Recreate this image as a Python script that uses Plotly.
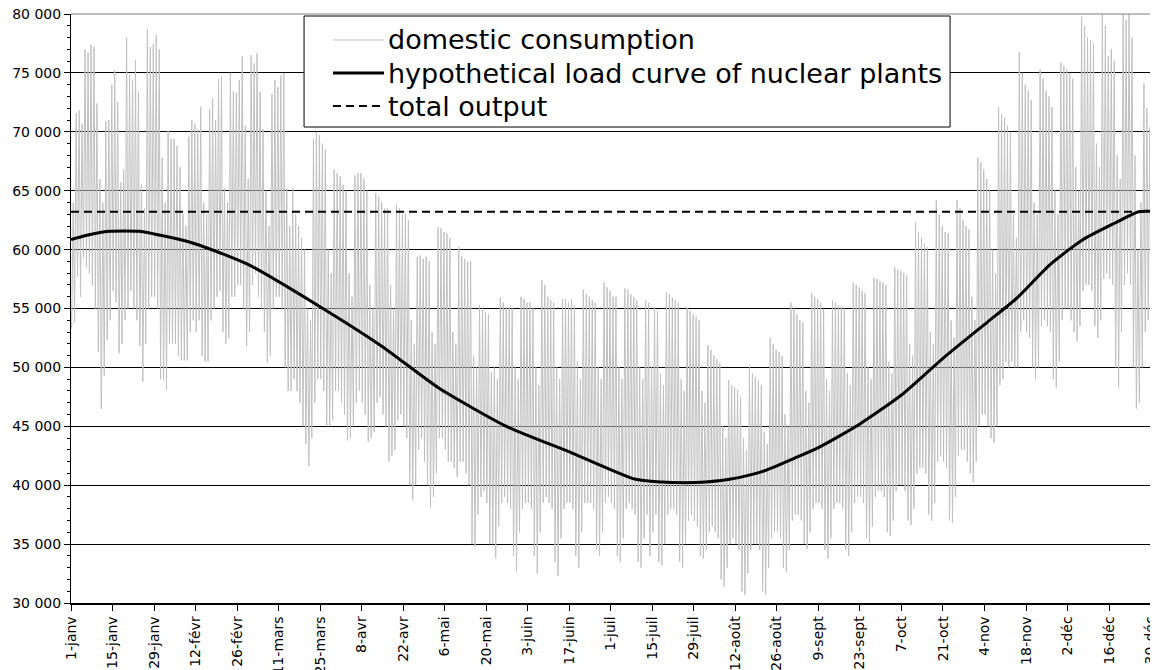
import plotly.graph_objects as go

# x axis: day of year 2004, one label every 14 days
x_labels = ["1-janv", "15-janv", "29-janv", "12-févr", "26-févr", "11-mars", "25-mars",
            "8-avr", "22-avr", "6-mai", "20-mai", "3-juin", "17-juin", "1-juil",
            "15-juil", "29-juil", "12-août", "26-août", "9-sept", "23-sept", "7-oct",
            "21-oct", "4-nov", "18-nov", "2-déc", "16-déc", "30-déc"]
tick_days = list(range(0, 365, 14))

# domestic consumption, daily peak (thousand MW), one row = 7 days starting 1 Jan
daily_max = [
    64.0, 71.6, 71.8, 70.7, 77.0, 76.7, 77.4,
    77.2, 72.4, 66.0, 64.0, 70.9, 71.0, 74.0,
    75.2, 72.5, 65.7, 66.8, 78.0, 74.8, 74.4,
    76.1, 73.4, 65.5, 63.5, 78.7, 77.2, 77.4,
    78.2, 77.0, 67.8, 64.0, 70.1, 69.4, 69.4,
    68.8, 67.0, 63.0, 62.0, 69.6, 71.0, 70.7,
    70.2, 72.1, 64.0, 63.0, 71.9, 72.8, 71.0,
    74.5, 74.7, 65.2, 64.0, 75.0, 73.4, 73.3,
    74.4, 76.4, 70.5, 66.0, 76.5, 75.8, 76.7,
    73.4, 70.2, 65.0, 62.0, 73.2, 74.4, 73.8,
    74.8, 75.0, 65.2, 62.0, 65.2, 63.0, 62.0,
    61.0, 60.0, 55.0, 54.0, 69.4, 70.0, 69.7,
    69.0, 68.5, 60.0, 58.0, 66.8, 66.5, 66.2,
    65.5, 65.0, 58.0, 56.0, 66.3, 66.5, 66.5,
    66.0, 65.0, 57.0, 55.0, 64.8, 64.5, 64.0,
    63.5, 63.5, 57.0, 55.0, 63.8, 63.5, 63.0,
    63.0, 62.5, 54.0, 52.0, 59.4, 59.5, 59.2,
    59.4, 59.0, 53.0, 52.0, 61.9, 61.8, 61.5,
    61.4, 61.0, 53.0, 52.0, 60.2, 59.4, 59.2,
    59.0, 59.0, 51.0, 50.0, 55.3, 55.0, 54.7,
    54.5, 49.6, 50.0, 49.0, 55.9, 55.5, 55.1,
    55.1, 55.0, 50.0, 49.0, 56.0, 55.8, 55.5,
    55.5, 55.0, 50.0, 48.5, 57.4, 57.0, 56.0,
    55.7, 55.5, 50.0, 49.0, 55.8, 55.8, 55.5,
    55.8, 55.3, 50.5, 49.0, 56.6, 56.2, 56.0,
    55.7, 55.5, 50.0, 49.0, 57.2, 56.8, 56.5,
    56.0, 56.0, 50.0, 49.0, 56.7, 56.6, 56.2,
    56.0, 55.7, 50.0, 49.0, 55.7, 55.5, 50.0,
    55.1, 54.8, 49.5, 48.5, 56.4, 56.2, 55.9,
    55.7, 55.5, 49.0, 48.0, 55.1, 54.8, 54.5,
    54.3, 54.0, 48.0, 47.0, 51.9, 51.5, 51.0,
    50.7, 50.4, 45.0, 44.0, 48.9, 48.5, 48.3,
    48.1, 47.5, 44.0, 43.0, 50.0, 49.5, 49.2,
    48.9, 48.5, 44.5, 43.5, 52.5, 52.0, 51.5,
    51.3, 51.0, 46.0, 45.0, 55.5, 55.0, 54.5,
    54.0, 53.8, 48.0, 47.0, 56.3, 56.0, 55.8,
    55.5, 54.9, 49.0, 48.0, 55.7, 55.5, 55.3,
    55.1, 55.0, 49.5, 48.5, 57.2, 57.0, 56.8,
    56.5, 56.3, 50.0, 49.0, 57.6, 57.5, 57.3,
    57.2, 57.0, 50.5, 49.5, 58.5, 58.3, 58.2,
    58.0, 57.8, 52.0, 51.0, 62.3, 61.5, 61.0,
    60.5, 60.2, 53.0, 52.0, 64.2, 63.0, 62.0,
    61.5, 61.4, 54.0, 52.5, 64.2, 63.5, 62.5,
    62.0, 61.7, 56.0, 54.0, 67.8, 67.4, 66.8,
    66.0, 65.0, 60.0, 58.0, 72.1, 71.5, 71.2,
    70.5, 70.0, 63.0, 61.0, 76.8, 75.0, 74.0,
    73.5, 72.7, 64.0, 63.0, 75.3, 74.5, 73.5,
    73.0, 72.1, 65.0, 63.0, 75.9, 75.6, 75.3,
    75.0, 74.5, 67.0, 65.0, 79.8, 79.0, 78.0,
    77.8, 77.5, 69.0, 67.0, 80.0, 79.0, 76.4,
    77.0, 76.0, 68.0, 66.0, 80.0, 79.5, 80.0,
    78.0, 68.0, 60.0, 64.0, 74.1, 72.0, 70.4,
    70.0, 66.0,
]

# domestic consumption, night trough (thousand MW)
daily_min = [
    53.3, 53.8, 57.7, 56.0, 59.3, 58.5, 58.0,
    56.9, 55.0, 51.3, 46.5, 49.3, 52.3, 54.0,
    56.5, 55.5, 51.2, 52.0, 54.0, 55.0, 56.5,
    55.0, 54.0, 51.8, 48.8, 52.0, 55.0, 56.0,
    56.0, 55.0, 49.0, 48.9, 48.1, 52.0, 52.0,
    52.0, 51.0, 50.6, 50.6, 50.6, 53.0, 54.0,
    53.0, 54.0, 51.0, 50.5, 50.5, 54.0, 55.0,
    56.0, 56.5, 53.0, 52.0, 52.5, 56.0, 56.0,
    57.0, 57.0, 55.0, 51.8, 53.0, 57.0, 58.0,
    56.0, 55.0, 53.0, 50.4, 51.0, 55.0, 56.0,
    56.0, 55.0, 50.0, 48.0, 48.0, 49.0, 48.0,
    47.0, 45.0, 43.5, 41.6, 44.0, 47.0, 49.0,
    49.0, 48.0, 45.0, 45.0, 45.5, 48.0, 48.0,
    47.0, 46.0, 43.8, 44.0, 45.0, 47.0, 48.0,
    47.0, 46.0, 43.7, 44.0, 44.5, 47.0, 47.5,
    46.0, 45.0, 42.0, 42.5, 43.0, 45.5, 46.0,
    45.0, 44.0, 40.0, 38.7, 40.0, 43.0, 44.0,
    42.0, 40.0, 38.1, 39.0, 41.0, 44.0, 44.0,
    43.0, 42.0, 42.0, 41.5, 40.7, 42.0, 42.0,
    41.0, 40.0, 35.0, 34.8, 37.5, 39.0, 39.5,
    38.5, 35.0, 35.0, 33.8, 36.5, 38.5, 39.0,
    38.5, 38.0, 34.0, 32.7, 36.0, 38.0, 38.5,
    38.5, 38.0, 34.0, 32.5, 36.0, 38.5, 39.0,
    38.5, 38.0, 33.5, 32.3, 35.5, 38.0, 38.5,
    38.5, 38.0, 34.0, 33.0, 36.0, 38.5, 38.5,
    38.5, 38.0, 34.5, 34.0, 36.0, 38.5, 39.0,
    38.5, 38.0, 34.0, 33.5, 35.5, 38.0, 38.5,
    38.0, 37.5, 33.5, 33.0, 35.5, 37.5, 34.0,
    36.0, 37.5, 33.5, 33.2, 35.0, 37.5, 38.0,
    38.0, 37.5, 33.5, 33.0, 35.0, 37.0, 37.5,
    37.0, 36.5, 34.0, 33.8, 34.5, 36.0, 36.5,
    36.0, 35.5, 32.0, 31.4, 33.0, 35.0, 35.5,
    35.0, 34.5, 31.0, 30.7, 32.5, 34.5, 35.0,
    35.0, 34.5, 31.0, 30.7, 33.0, 35.5, 36.0,
    36.0, 35.5, 33.0, 32.6, 34.5, 37.0, 37.5,
    37.5, 37.0, 35.0, 34.6, 36.0, 38.0, 38.5,
    38.5, 38.0, 34.5, 33.8, 35.5, 38.0, 38.5,
    38.5, 38.0, 34.5, 34.0, 36.0, 38.5, 39.0,
    39.0, 38.5, 35.5, 35.1, 36.5, 39.0, 39.5,
    39.5, 39.0, 36.0, 35.7, 37.0, 39.5, 40.0,
    40.0, 39.5, 37.0, 36.6, 38.0, 41.0, 41.5,
    41.5, 41.0, 37.5, 37.0, 38.5, 42.0, 42.5,
    42.0, 41.5, 37.0, 36.8, 39.0, 42.5, 43.0,
    43.0, 42.0, 41.0, 40.2, 42.0, 45.0, 46.0,
    46.0, 45.0, 44.0, 43.6, 45.0, 48.5, 49.0,
    50.5, 50.0, 50.5, 50.0, 50.0, 53.0, 54.0,
    53.0, 52.5, 50.0, 49.0, 50.0, 53.5, 54.0,
    53.5, 53.0, 49.0, 48.3, 50.5, 54.0, 55.0,
    55.0, 54.0, 53.0, 52.2, 53.5, 56.5, 57.0,
    57.0, 56.5, 53.5, 52.5, 54.0, 57.5, 58.0,
    57.5, 57.0, 50.0, 48.3, 53.0, 57.0, 58.0,
    57.0, 50.0, 46.5, 47.0, 50.0, 53.0, 54.0,
    53.0, 52.7,
]
trough_hour = 5
peak_hour = 18

# hypothetical load curve of nuclear plants (thousand MW)
load_days = [0, 5, 13, 18, 23, 28, 36, 41, 52, 60, 83, 105, 124, 147, 169, 190, 199,
             207, 214, 222, 233, 244, 252, 266, 280, 294, 309, 319, 330, 341, 352, 360, 366]
load_vals = [60.85, 61.20, 61.55, 61.58, 61.55, 61.33, 60.90, 60.56, 59.55, 58.70, 55.30,
             51.76, 48.25, 44.97, 42.73, 40.53, 40.27, 40.20, 40.27, 40.50, 41.15, 42.30,
             43.19, 45.20, 47.66, 50.77, 53.85, 55.90, 58.70, 60.82, 62.26, 63.22, 63.22]

total_output = 63.22

# daily trough -> peak zig-zag for the consumption trace
cons_x, cons_y = [], []
for day, (lo, hi) in enumerate(zip(daily_min, daily_max)):
    cons_x += [day + trough_hour / 24, day + peak_hour / 24]
    cons_y += [lo * 1000, hi * 1000]

fig = go.Figure()
fig.add_trace(go.Scatter(x=cons_x, y=cons_y, mode='lines', name='domestic consumption',
                         line=dict(color='#c0c0c0', width=1), showlegend=False))
fig.add_trace(go.Scatter(x=load_days, y=[v * 1000 for v in load_vals], mode='lines',
                         name='hypothetical load curve of nuclear plants',
                         line=dict(color='black', width=3, shape='spline', smoothing=0.6),
                         showlegend=False))
fig.add_trace(go.Scatter(x=[0, 366], y=[total_output * 1000] * 2, mode='lines',
                         name='total output',
                         line=dict(color='black', width=2, dash='8px,5px'), showlegend=False))

# legend drawn as a framed box (paper coordinates)
legend_rows = [
    ('domestic consumption', dict(color='#c0c0c0', width=1)),
    ('hypothetical load curve of nuclear plants', dict(color='black', width=3)),
    ('total output', dict(color='black', width=2, dash='8px,5px')),
]
shapes = [
    # grey plot-area top border
    dict(type='line', xref='paper', yref='paper', x0=0, x1=1, y0=1, y1=1,
         line=dict(color='#808080', width=1), layer='above'),
    dict(type='rect', xref='paper', yref='paper', x0=0.2144, x1=0.8087,
         y0=0.8081, y1=0.9966, fillcolor='white', line=dict(color='black', width=1),
         layer='above'),
]
annotations = []
row_y = [0.9559, 0.8998, 0.8438]
for (label, style), yy in zip(legend_rows, row_y):
    shapes.append(dict(type='line', xref='paper', yref='paper', x0=0.2410, x1=0.2880,
                       y0=yy, y1=yy, line=style, layer='above'))
    annotations.append(dict(xref='paper', yref='paper', x=0.2900, y=yy, text=label,
                            showarrow=False, xanchor='left', yanchor='middle',
                            font=dict(family='DejaVu Sans', size=27, color='black')))

# the page body has an 8px margin, so the figure is shrunk by that amount
fig.update_layout(
    width=1150, height=662,
    margin=dict(l=63, r=0, t=6, b=67),
    paper_bgcolor='white', plot_bgcolor='white',
    separators=', ',
    font=dict(family='DejaVu Sans', size=14, color='black'),
    shapes=shapes, annotations=annotations,
    showlegend=False,
)
fig.update_xaxes(
    range=[0, 366.5], tickvals=tick_days, ticktext=x_labels, tickangle=-90,
    showgrid=False, zeroline=False, showline=True, linecolor='black', linewidth=1.5,
    ticks='outside', ticklen=6, tickcolor='black',
    automargin=False, ticklabeloverflow='allow',
)
fig.update_yaxes(
    range=[30000, 80000], dtick=5000, tickformat=',d',
    showgrid=True, gridcolor='black', gridwidth=1, zeroline=False,
    showline=True, linecolor='black', linewidth=1,
    ticks='outside', ticklen=6, tickcolor='black',
    minor=dict(dtick=1000, ticks='outside', ticklen=3, tickcolor='black', showgrid=False),
    automargin=False, ticklabeloverflow='allow',
)

fig.write_html("out.html")
